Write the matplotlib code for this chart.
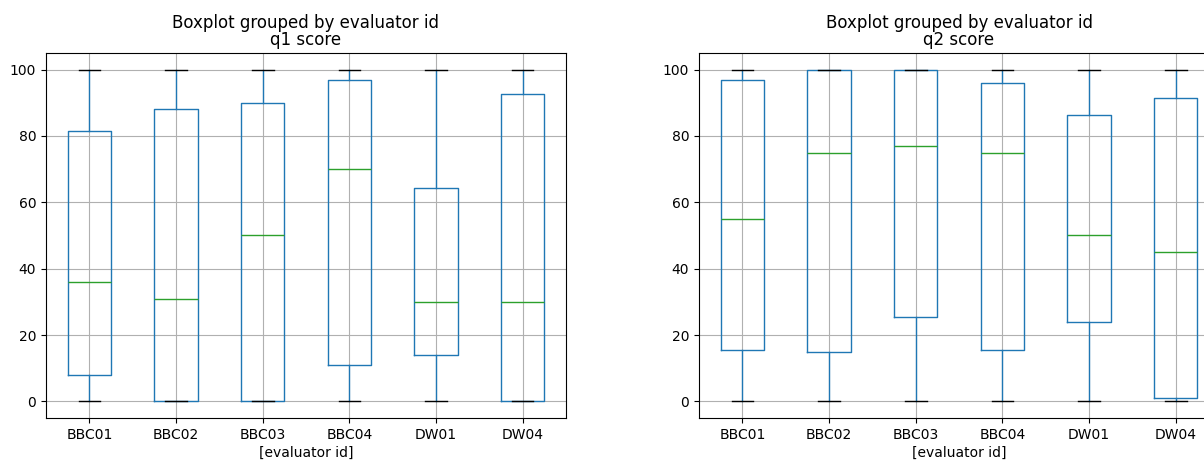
import matplotlib.pyplot as plt

# evaluator ids on the x axis
evaluators = ["BBC01", "BBC02", "BBC03", "BBC04", "DW01", "DW04"]

# q1 score: whisker low, q1, median, q3, whisker high
q1_low = [0, 0, 0, 0, 0, 0]
q1_q1 = [8, 0, 0, 11, 14, 0]
q1_med = [36, 31, 50, 70, 30, 30]
q1_q3 = [81.5, 88, 90, 97, 64.3, 92.5]
q1_high = [100, 100, 100, 100, 100, 100]

# q2 score
q2_low = [0, 0, 0, 0, 0, 0]
q2_q1 = [15.5, 15, 25.5, 15.5, 24, 1]
q2_med = [55, 75, 77, 75, 50, 45]
q2_q3 = [97, 100, 100, 96, 86.3, 91.5]
q2_high = [100, 100, 100, 100, 100, 100]


def make_stats(low, q1, med, q3, high):
    stats = []
    for i in range(len(evaluators)):
        stats.append({"label": evaluators[i], "whislo": low[i], "q1": q1[i],
                      "med": med[i], "q3": q3[i], "whishi": high[i],
                      "fliers": []})
    return stats


fig = plt.figure(figsize=(12.04, 4.61), dpi=100)
ax1 = fig.add_axes([46 / 1204, 43 / 461, 520 / 1204, 365 / 461])
ax2 = fig.add_axes([699 / 1204, 43 / 461, 520 / 1204, 365 / 461])

series = [(ax1, "q1 score", make_stats(q1_low, q1_q1, q1_med, q1_q3, q1_high)),
          (ax2, "q2 score", make_stats(q2_low, q2_q1, q2_med, q2_q3, q2_high))]

for ax, name, stats in series:
    ax.bxp(stats, widths=0.5, showfliers=False,
           boxprops=dict(color="C0"), whiskerprops=dict(color="C0"),
           medianprops=dict(color="C2"), capprops=dict(color="black"))
    ax.set_ylim(-5, 105)
    ax.grid(True)
    ax.set_axisbelow(True)
    ax.set_title("Boxplot grouped by evaluator id\n" + name, fontsize=12, linespacing=0.9)
    ax.set_xlabel("[evaluator id]", fontsize=10, labelpad=3)
    ax.tick_params(labelsize=10)

fig.savefig("out.png", dpi=100)
